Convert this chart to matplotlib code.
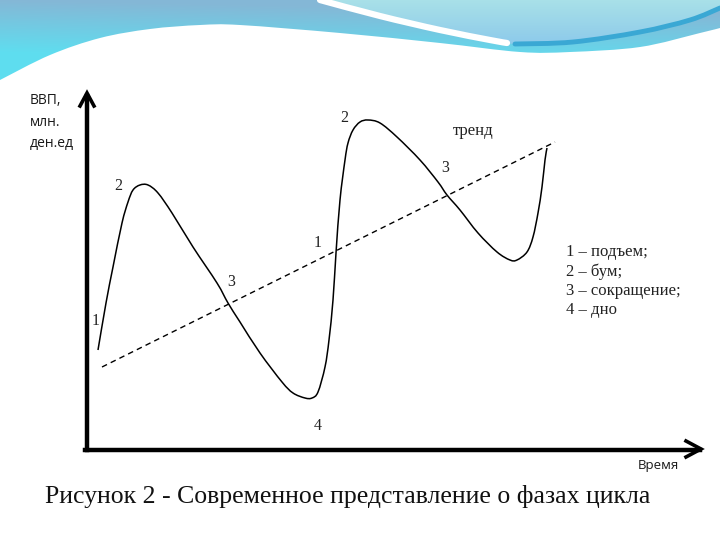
import numpy as np
import matplotlib
matplotlib.use("Agg")
import matplotlib.pyplot as plt
from matplotlib.patches import PathPatch
from matplotlib.path import Path

# ---- data (pixel-like units, y grows downward) ----
cycle_x = [98, 106, 113, 122, 128, 133, 140, 148, 158, 172, 193, 217, 228, 240,
           260, 282, 293, 305, 312, 318, 325, 329, 333, 336, 340, 345, 348, 353,
           360, 368, 380, 397, 420, 438, 447, 460, 478, 497, 510, 517, 527, 533,
           538, 542, 545, 547]
cycle_y = [350, 303, 267, 223, 202, 190, 185, 185, 193, 213, 247, 283, 303, 322,
           353, 382, 393, 398, 398, 392, 367, 340, 300, 253, 200, 160, 143, 130,
           122, 120, 123, 137, 160, 182, 195, 210, 233, 252, 260, 260, 252, 237,
           213, 187, 160, 148]
trend_x = [102, 555]
trend_y = [367, 142]

phase_labels = ["1", "2", "3", "4", "1", "2", "3"]
phase_x = [96, 118, 231, 318, 318, 344, 445]
phase_y = [321, 186, 282, 426, 243, 118, 168]

legend_lines = ["1 – подъем;", "2 – бум;", "3 – сокращение;", "4 – дно"]
y_axis_label = "ВВП,\nмлн.\nден.ед"
x_axis_label = "Время"
trend_label = "тренд"
caption = "Рисунок 2 - Современное представление о фазах цикла"

# decorative wave (slide background)
wave_x = [0, 50, 100, 150, 200, 240, 340, 440, 520, 570, 640, 700, 720]
wave_y = [80, 55, 38, 29, 25, 25, 33, 43, 52, 52, 47, 33, 28]
light_x = [320, 380, 440, 490, 507, 520, 573, 640, 690, 720]
light_y = [0, 16, 30, 40, 43, 44, 42, 32, 20, 7]
stroke_x = [515, 573, 640, 690, 720]
stroke_y = [44, 42, 32, 20, 8]
streak_x = [320, 380, 440, 490, 507]
streak_y = [0, 16, 30, 40, 43]


def smooth_verts(xs, ys):
    """Catmull-Rom through the points, as cubic Bezier vertices."""
    P = np.column_stack([xs, ys]).astype(float)
    P = np.vstack([P[0], P, P[-1]])
    verts = [tuple(P[1])]
    codes = [Path.MOVETO]
    for i in range(1, len(P) - 2):
        p0, p1, p2, p3 = P[i - 1], P[i], P[i + 1], P[i + 2]
        c1 = p1 + (p2 - p0) / 6.0
        c2 = p2 - (p3 - p1) / 6.0
        verts += [tuple(c1), tuple(c2), tuple(p2)]
        codes += [Path.CURVE4] * 3
    return verts, codes


def smooth_path(xs, ys):
    v, c = smooth_verts(xs, ys)
    return Path(v, c)


def smooth_region(xs, ys, extra):
    """Closed region: smooth edge through points, then straight to extra corners."""
    v, c = smooth_verts(xs, ys)
    for p in extra:
        v.append(p)
        c.append(Path.LINETO)
    v.append(v[0])
    c.append(Path.CLOSEPOLY)
    return Path(v, c)


fig = plt.figure(figsize=(7.2, 5.4), dpi=100)
fig.patch.set_facecolor("white")
ax = fig.add_axes([0, 0, 1, 1])
ax.set_xlim(0, 720)
ax.set_ylim(540, 0)
ax.axis("off")

# ---- wave background with gradient ----
main_patch = PathPatch(smooth_region(wave_x, wave_y, [(720, 0), (0, 0)]),
                       facecolor="none", edgecolor="none")
ax.add_patch(main_patch)
gy = np.linspace(0, 1, 90)[:, None, None]
gx = np.linspace(0, 1, 200)[None, :, None]
c_top = np.array([0.52, 0.72, 0.84])
c_low = np.array([0.37, 0.87, 0.94])
t = np.clip(gy * 1.7 - 0.25 + (1 - gx) * 0.25, 0, 1)
img = c_top * (1 - t) + c_low * t
im = ax.imshow(img, extent=[0, 720, 90, 0], zorder=1, interpolation="bilinear",
               aspect="auto")
im.set_clip_path(main_patch)

# lighter region on the right top
light_patch = PathPatch(smooth_region(light_x, light_y, [(720, 0), (320, 0)]),
                        facecolor="none", edgecolor="none", zorder=2)
ax.add_patch(light_patch)
c_l1 = np.array([0.66, 0.88, 0.91])
c_l2 = np.array([0.55, 0.79, 0.92])
t2 = np.clip(gy * 2.0, 0, 1) * np.ones_like(gx)
img2 = c_l1 * (1 - t2) + c_l2 * t2
im2 = ax.imshow(img2, extent=[0, 720, 90, 0], zorder=2, interpolation="bilinear",
                aspect="auto")
im2.set_clip_path(light_patch)

# white streak and darker blue stroke
ax.add_patch(PathPatch(smooth_path(streak_x, streak_y), facecolor="none",
                       edgecolor="white", lw=4.5, capstyle="round", zorder=3))
ax.add_patch(PathPatch(smooth_path(stroke_x, stroke_y), facecolor="none",
                       edgecolor="#3aa8d4", lw=3.5, capstyle="round", zorder=3))

# ---- axes arrows ----
ax.plot([87, 87], [450, 96], color="black", lw=3.2, zorder=4)
ax.plot([85, 700], [450, 450], color="black", lw=3.2, zorder=4)
ax.plot([80, 87, 94], [106, 93, 106], color="black", lw=2.6, zorder=4,
        solid_joinstyle="miter")
ax.plot([686, 701, 686], [441, 449, 457], color="black", lw=2.6, zorder=4,
        solid_joinstyle="miter")

# ---- curve and trend ----
ax.add_patch(PathPatch(smooth_path(cycle_x, cycle_y), facecolor="none",
                       edgecolor="black", lw=1.1, zorder=5))
ax.plot(trend_x, trend_y, color="black", lw=1.0, ls=(0, (4, 3)), zorder=5)

serif = ["Liberation Serif", "DejaVu Serif"]
sans = ["Open Sans", "DejaVu Sans"]

for lbl, x, y in zip(phase_labels, phase_x, phase_y):
    ax.text(x, y, lbl, family=serif, fontsize=11.5, color="#222222",
            ha="center", va="center", zorder=6)

ax.text(473, 131, trend_label, family=serif, fontsize=12, color="#222222",
        ha="center", va="center", zorder=6)

for i, line in enumerate(legend_lines):
    ax.text(566, 252 + i * 19.3, line, family=serif, fontsize=12,
            color="#222222", ha="left", va="center", zorder=6)

ax.text(30, 122, y_axis_label, family=sans, fontsize=10, color="#1a1a1a",
        ha="left", va="center", linespacing=1.55, zorder=6)
ax.text(658, 466, x_axis_label, family=sans, fontsize=9.5, color="#1a1a1a",
        ha="center", va="center", zorder=6)

ax.text(45, 497, caption, family=serif, fontsize=18.5, color="#111111",
        ha="left", va="center", zorder=6)

fig.savefig("out.png", dpi=100, facecolor="white")
